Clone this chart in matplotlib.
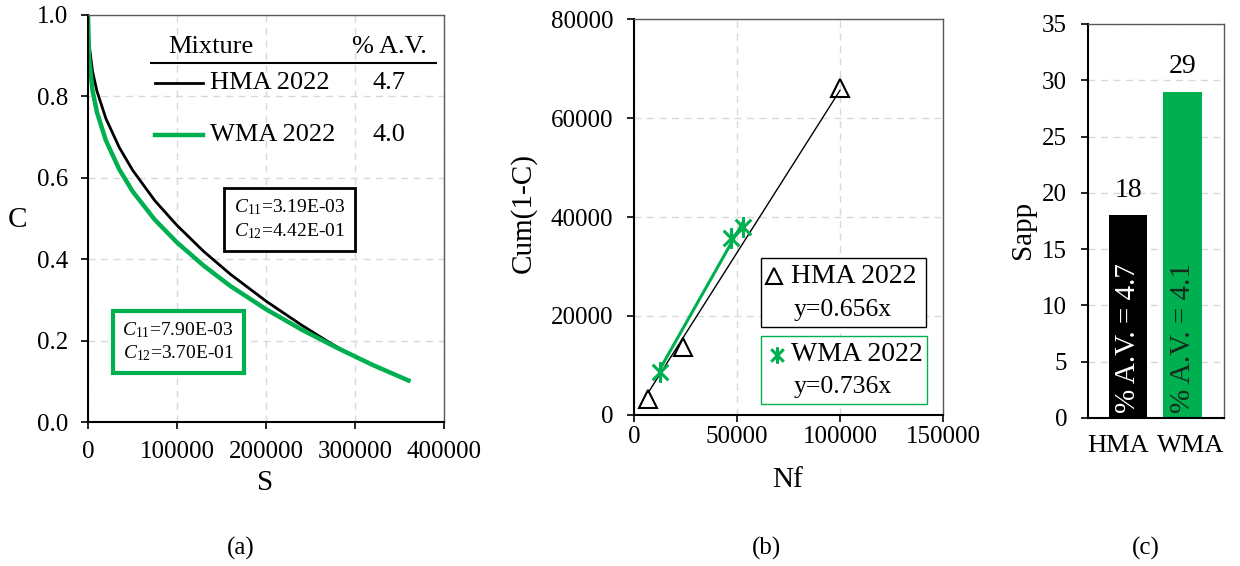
import matplotlib
matplotlib.use("Agg")
import matplotlib.pyplot as plt
from matplotlib.path import Path
from matplotlib.patches import Rectangle
from matplotlib.transforms import ScaledTranslation
import numpy as np

plt.rcParams['font.family'] = ['Liberation Serif', 'DejaVu Serif']
plt.rcParams['mathtext.fontset'] = 'custom'
plt.rcParams['mathtext.rm'] = 'Liberation Serif'
plt.rcParams['mathtext.it'] = 'Liberation Serif:italic'

# ---------------- data ----------------
# (a) damage curves C vs S
hma_S = [0, 1000, 5000, 10000, 20000, 35000, 50000, 75000, 100000, 130000,
         160000, 200000, 240000, 270000, 292000]
hma_C = [1.0, 0.932, 0.862, 0.813, 0.746, 0.675, 0.619, 0.544, 0.483, 0.419,
         0.363, 0.297, 0.238, 0.197, 0.169]
wma_S = [0, 1000, 5000, 10000, 20000, 35000, 50000, 75000, 100000, 130000,
         160000, 200000, 240000, 280000, 320000, 360000]
wma_C = [1.0, 0.898, 0.815, 0.761, 0.692, 0.621, 0.567, 0.497, 0.441, 0.384,
         0.334, 0.277, 0.227, 0.182, 0.140, 0.102]
legend_names = ['HMA 2022', 'WMA 2022']
legend_av = ['4.7', '4.0']
hma_coef = ['3.19E-03', '4.42E-01']
wma_coef = ['7.90E-03', '3.70E-01']

# (b) Cum(1-C) vs Nf
hma_Nf = [7000, 24000, 100000]
hma_cum = [3300, 13800, 66000]
wma_Nf = [12500, 47000, 53000]
wma_cum = [8700, 35700, 38000]
hma_slope = 0.656
wma_slope = 0.736

# (c) Sapp bars
sapp_cats = ['HMA', 'WMA']
sapp_vals = [18, 29]
sapp_av = ['4.7', '4.1']

GREEN = '#00B050'
GRID = dict(color='#d9d9d9', linestyle=(0, (5, 4)), linewidth=1.0)

fig = plt.figure(figsize=(12.4, 5.66), dpi=100)

def style_axes(ax, xpad, ypad):
    ax.set_axisbelow(True)
    for s in ['left', 'bottom']:
        ax.spines[s].set_linewidth(1.5)
        ax.spines[s].set_color('black')
    for s in ['top', 'right']:
        ax.spines[s].set_linewidth(1.0)
        ax.spines[s].set_color('#595959')
    ax.tick_params(direction='out', length=5, width=1.2, labelsize=18, colors='black')
    ax.tick_params(axis='x', pad=xpad)
    ax.tick_params(axis='y', pad=ypad)

# ---------------- (a) ----------------
axa = fig.add_axes([0.0710, 0.2544, 0.2871, 0.7191])
style_axes(axa, 9, 9)
axa.plot(hma_S, hma_C, color='black', lw=2.0)
axa.plot(wma_S, wma_C, color=GREEN, lw=3.2)
axa.set_xlim(0, 400000)
axa.set_ylim(0, 1.0)
axa.set_xticks(np.arange(0, 400001, 100000))
axa.set_yticks(np.arange(0, 1.01, 0.2))
axa.yaxis.set_major_formatter(matplotlib.ticker.FormatStrFormatter('%.1f'))
axa.grid(True, **GRID)
axa.set_xlabel('S', fontsize=21, va='center')
axa.set_ylabel('C', fontsize=21, va='center', rotation=0)
axa.xaxis.set_label_coords(0.497, -0.150)
axa.yaxis.set_label_coords(-0.199, 0.496)

T = axa.transAxes
axa.text(0.346, 0.921, 'Mixture', transform=T, ha='center', va='center', fontsize=19)
axa.text(0.848, 0.921, '% A.V.', transform=T, ha='center', va='center', fontsize=19)
axa.plot([0.177, 0.978], [0.882, 0.882], transform=T, color='black', lw=1.5, clip_on=False)
for (yy, col, lw, name, av) in [(0.833, 'black', 2.0, legend_names[0], legend_av[0]),
                                (0.705, GREEN, 3.2, legend_names[1], legend_av[1])]:
    axa.plot([0.188, 0.323], [yy, yy], transform=T, color=col, lw=lw)
    axa.text(0.343, yy, name, transform=T, ha='left', va='center', fontsize=19)
    axa.text(0.845, yy, av, transform=T, ha='center', va='center', fontsize=19)

axa.text(0.567, 0.498,
         r'$\mathit{C}_{\mathit{11}}$' + '=' + hma_coef[0] + '\n' + r'$\mathit{C}_{\mathit{12}}$' + '=' + hma_coef[1],
         transform=T, ha='center', va='center', fontsize=14, linespacing=1.25,
         bbox=dict(boxstyle='square,pad=0.5', fc='white', ec='black', lw=2.0))
axa.text(0.253, 0.197,
         r'$\mathit{C}_{\mathit{11}}$' + '=' + wma_coef[0] + '\n' + r'$\mathit{C}_{\mathit{12}}$' + '=' + wma_coef[1],
         transform=T, ha='center', va='center', fontsize=14, linespacing=1.25,
         bbox=dict(boxstyle='square,pad=0.5', fc='white', ec=GREEN, lw=3.0))

# ---------------- (b) ----------------
axb = fig.add_axes([0.5113, 0.2668, 0.2492, 0.6996])
style_axes(axb, 3, 10)
star = Path([(0, -1), (0, 1), (-0.75, -0.75), (0.75, 0.75), (-0.75, 0.75), (0.75, -0.75)],
            [Path.MOVETO, Path.LINETO, Path.MOVETO, Path.LINETO, Path.MOVETO, Path.LINETO])
hx = np.array([min(hma_Nf), max(hma_Nf)])
wx = np.array([min(wma_Nf), max(wma_Nf)])
axb.plot(hx, hma_slope * hx, color='black', lw=1.0)
axb.plot(wx, wma_slope * wx, color=GREEN, lw=2.2)
axb.plot(hma_Nf, hma_cum, linestyle='none', marker='^', ms=13, mfc='none', mec='black', mew=1.5)
axb.plot(wma_Nf, wma_cum, linestyle='none', marker=star, ms=15, mfc='none', mec=GREEN, mew=2.2)
axb.set_xlim(0, 150000)
axb.set_ylim(0, 80000)
axb.set_xticks(np.arange(0, 150001, 50000))
axb.set_yticks(np.arange(0, 80001, 20000))
axb.grid(True, **GRID)
axb.set_xlabel('Nf', fontsize=21, va='center')
axb.set_ylabel('Cum(1-C)', fontsize=21, va='center')
axb.xaxis.set_label_coords(0.498, -0.164)
axb.yaxis.set_label_coords(-0.358, 0.51)

Tb = axb.transAxes
axb.add_patch(Rectangle((0.411, 0.222), 0.534, 0.174, transform=Tb, fc='white', ec='black', lw=1.0, zorder=5))
axb.add_patch(Rectangle((0.411, 0.028), 0.537, 0.171, transform=Tb, fc='white', ec=GREEN, lw=1.0, zorder=5))
axb.plot([0.452], [0.351], transform=Tb, marker='^', ms=11, mfc='none', mec='black', mew=1.5, zorder=6)
axb.text(0.508, 0.351, legend_names[0], transform=Tb, ha='left', va='center', fontsize=20, zorder=6)
axb.text(0.675, 0.265, 'y=%.3fx' % hma_slope, transform=Tb, ha='center', va='center', fontsize=18.5, zorder=6)
axb.plot([0.463], [0.152], transform=Tb, marker=star, ms=12, mfc='none', mec=GREEN, mew=2.2, zorder=6)
axb.text(0.508, 0.152, legend_names[1], transform=Tb, ha='left', va='center', fontsize=20, zorder=6)
axb.text(0.675, 0.071, 'y=%.3fx' % wma_slope, transform=Tb, ha='center', va='center', fontsize=18.5, zorder=6)

# ---------------- (c) ----------------
axc = fig.add_axes([0.8774, 0.2615, 0.1097, 0.6961])
style_axes(axc, 12, 10)
xpos = np.arange(len(sapp_cats))
axc.bar(xpos, sapp_vals, width=0.71, color=['black', GREEN])
axc.set_xlim(-0.73, 1.75)
axc.set_ylim(0, 35)
axc.set_yticks(np.arange(0, 36, 5))
axc.yaxis.grid(True, **GRID)
axc.set_xticks(xpos, sapp_cats)
axc.tick_params(axis='x', length=0, labelsize=19)
offs = [-10, 8]
for lab, o in zip(axc.get_xticklabels(), offs):
    lab.set_transform(lab.get_transform() + ScaledTranslation(o / 100, 0, fig.dpi_scale_trans))
axc.set_ylabel('Sapp', fontsize=21, va='center')
axc.yaxis.set_label_coords(-0.475, 0.477)
for x, v in zip(xpos, sapp_vals):
    axc.text(x, v + 1.1, str(v), ha='center', va='bottom', fontsize=20)
txtcol = ['white', '#142b1c']
for x, av, c in zip(xpos, sapp_av, txtcol):
    axc.text(x, 0.45, '% A.V. = ' + av, rotation=90, ha='center', va='bottom', fontsize=21, color=c)

# captions
for xc, lab in [(241, '(a)'), (766, '(b)'), (1146, '(c)')]:
    fig.text(xc / 1240, 1 - 548 / 566, lab, ha='center', va='center', fontsize=18)

fig.savefig('out.png', dpi=100)
